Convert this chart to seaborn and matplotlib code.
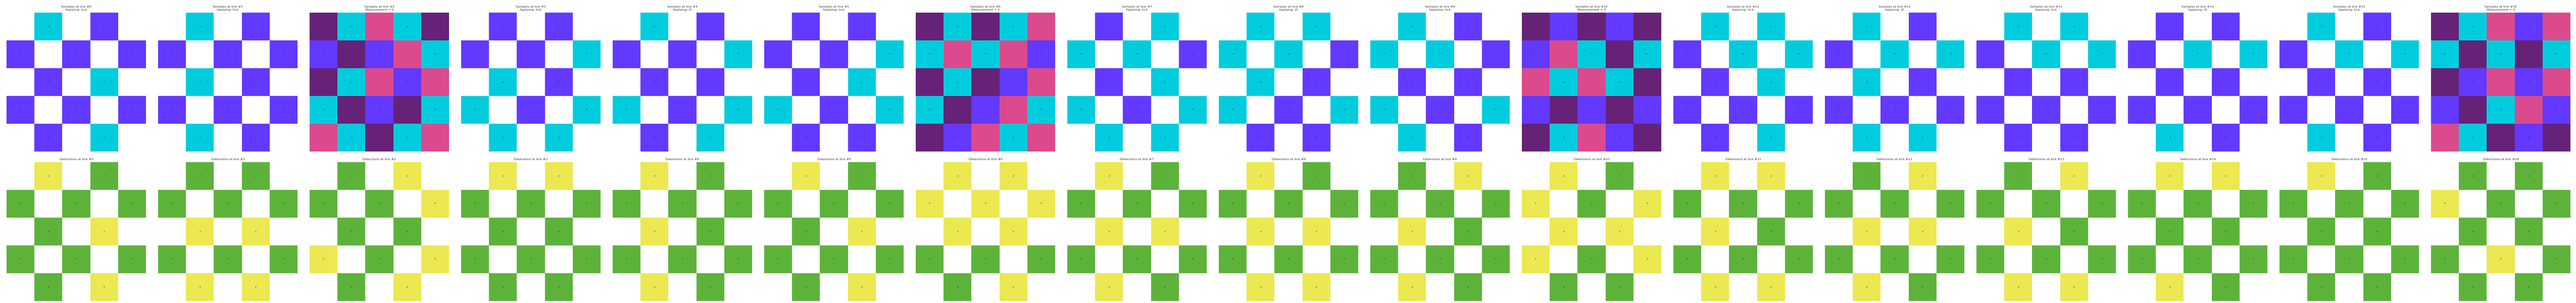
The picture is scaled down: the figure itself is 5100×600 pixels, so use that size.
import numpy as np
import pandas as pd
import seaborn as sns
import matplotlib.pyplot as plt
from matplotlib.colors import ListedColormap

# 5x5 layout per tick: C=cyan, P=purple, D=dark purple, K=pink, .=empty
sample_grids = [
    [".C.P.", "P.P.P", ".P.C.", "P.P.P", ".P.C."],
    [".C.P.", "P.P.P", ".C.P.", "P.P.P", ".C.P."],
    ["DCKCD", "PDPKC", "DCKPK", "CDPDC", "KCDCK"],
    [".P.P.", "P.P.C", ".C.P.", "C.P.C", ".C.C."],
    [".C.P.", "P.P.C", ".P.P.", "C.P.C", ".P.C."],
    [".P.P.", "P.P.C", ".P.C.", "C.P.C", ".P.P."],
    ["DCDCK", "CKCKP", "DCDPK", "CDPKC", "DPKCK"],
    [".P.C.", "C.C.P", ".P.C.", "C.P.C", ".C.C."],
    [".C.C.", "C.C.P", ".C.P.", "C.P.C", ".P.P."],
    [".C.P.", "C.C.P", ".P.P.", "C.P.C", ".C.P."],
    ["DPDPD", "PKCDC", "KCKCD", "PDPDP", "DCKPD"],
    [".C.C.", "P.C.C", ".P.C.", "P.P.P", ".P.C."],
    [".C.P.", "P.C.C", ".C.P.", "P.P.P", ".C.C."],
    [".C.C.", "P.C.C", ".P.P.", "P.P.P", ".P.P."],
    [".P.P.", "P.C.C", ".P.P.", "P.P.P", ".C.P."],
    [".C.P.", "P.C.C", ".P.P.", "P.P.P", ".C.P."],
    ["DCKPK", "CDCDC", "DPKPK", "PDCKP", "KCDPD"],
]

# G=green (no detection), Y=yellow (detection)
detection_grids = [
    [".Y.G.", "G.G.G", ".G.Y.", "G.G.G", ".G.Y."],
    [".G.G.", "G.G.G", ".Y.Y.", "G.G.G", ".Y.Y."],
    [".G.Y.", "G.G.Y", ".G.G.", "Y.G.Y", ".G.Y."],
    [".Y.Y.", "G.G.G", ".G.G.", "G.G.G", ".G.G."],
    [".Y.G.", "G.G.G", ".Y.G.", "G.G.G", ".Y.G."],
    [".Y.G.", "G.G.G", ".G.Y.", "G.G.G", ".G.Y."],
    [".Y.Y.", "Y.Y.Y", ".Y.Y.", "G.G.G", ".G.Y."],
    [".Y.G.", "G.G.G", ".Y.Y.", "G.G.G", ".Y.G."],
    [".Y.G.", "G.G.G", ".Y.Y.", "G.G.G", ".Y.Y."],
    [".G.Y.", "G.G.G", ".Y.G.", "G.G.G", ".Y.G."],
    [".Y.G.", "Y.G.Y", ".Y.Y.", "Y.G.Y", ".G.G."],
    [".Y.Y.", "G.G.G", ".Y.G.", "G.G.G", ".Y.Y."],
    [".G.Y.", "G.G.G", ".Y.Y.", "G.G.G", ".Y.G."],
    [".G.Y.", "G.G.G", ".Y.G.", "G.G.G", ".Y.Y."],
    [".Y.Y.", "G.G.G", ".G.G.", "G.G.G", ".Y.G."],
    [".Y.G.", "G.G.G", ".G.G.", "G.G.G", ".G.G."],
    [".G.G.", "Y.G.G", ".G.G.", "G.Y.G", ".G.G."],
]

sample_notes = [
    "Applying: tick", "Applying: tick", "Measurement = 0", "Applying: tick",
    "Applying: ZI", "Applying: tick", "Measurement = 1", "Applying: tick",
    "Applying: ZI", "Applying: tick", "Measurement = 0", "Applying: tick",
    "Applying: ZI", "Applying: tick", "Applying: ZI", "Applying: tick",
    "Measurement = 0",
]

qubit_roles = [" Z Z ", "X X X", " Z Z ", "X X X", " Z Z "]

sample_codes = {"C": 0, "P": 1, "D": 2, "K": 3}
sample_colors = ["#00CCDD", "#6339FF", "#662277", "#DA4A8C"]
detection_codes = {"G": 0, "Y": 1}
detection_colors = ["#5DB33A", "#EBE851"]

TEXT = "#333333"

sns.set_theme(style="white")
plt.rcParams["font.family"] = ["DejaVu Sans"]

labels = np.array([[c.strip() for c in row] for row in qubit_roles])


def draw_grid(ax, rows, codes, colors, title):
    values = np.array([[codes.get(c, np.nan) for c in row] for row in rows], dtype=float)
    df = pd.DataFrame(values)
    sns.heatmap(
        df,
        ax=ax,
        mask=df.isna(),
        cmap=ListedColormap(colors),
        vmin=-0.5,
        vmax=len(colors) - 0.5,
        cbar=False,
        annot=labels,
        fmt="",
        annot_kws={"fontsize": 3, "color": "#222222"},
        xticklabels=False,
        yticklabels=False,
    )
    ax.set_title(title, fontsize=4.5, color=TEXT, pad=3, linespacing=1.2)


fig = plt.figure(figsize=(51, 6), dpi=100)
W, H = 5100.0, 600.0
for i in range(len(sample_grids)):
    left = (13 + 300 * i) / W
    ax_top = fig.add_axes([left, 300 / H, 276 / W, 275 / H])
    draw_grid(ax_top, sample_grids[i], sample_codes, sample_colors,
              f"Samples at tick #{i}\n{sample_notes[i]}")
    ax_bot = fig.add_axes([left, 4 / H, 276 / W, 275 / H])
    draw_grid(ax_bot, detection_grids[i], detection_codes, detection_colors,
              f"Detections at tick #{i}")

fig.savefig("out.png", dpi=100, facecolor="white")
